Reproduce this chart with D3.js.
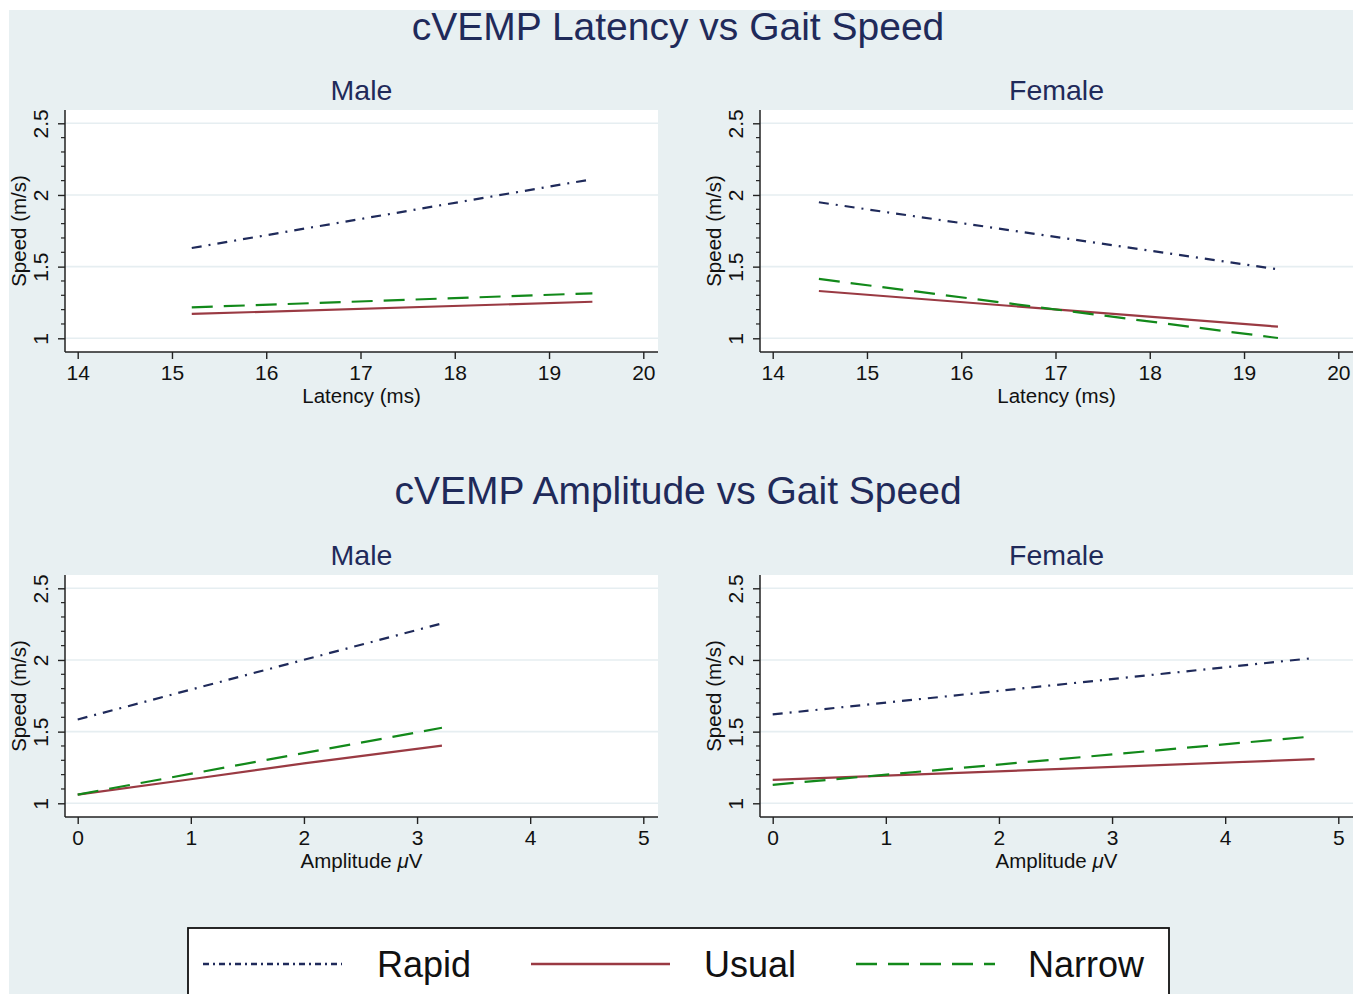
<!DOCTYPE html>
<html>
<head>
<meta charset="utf-8">
<script src="https://cdn.jsdelivr.net/npm/d3@7"></script>
<style>
    body { margin: 0; background: #ffffff; }
    text { font-family: "Liberation Sans", Arial, Helvetica, sans-serif; }
</style>
</head>
<body>
<script>
//chart text
var titles = ["cVEMP Latency vs Gait Speed", "cVEMP Amplitude vs Gait Speed"];
var sexes = ["Male", "Female"];
var groups = ["Rapid", "Usual", "Narrow"];

//tick labels
var latencyTicks = [14, 15, 16, 17, 18, 19, 20];
var amplitudeTicks = [0, 1, 2, 3, 4, 5];
var speedTicks = [1, 1.5, 2, 2.5];

//fitted lines, [x, speed] pairs
var latMaleRapid = [[15.21, 1.63], [19.46, 2.11]];
var latMaleUsual = [[15.21, 1.17], [19.46, 1.255]];
var latMaleNarrow = [[15.21, 1.216], [19.46, 1.314]];

var latFemaleRapid = [[14.49, 1.949], [19.36, 1.481]];
var latFemaleUsual = [[14.49, 1.33], [19.36, 1.081]];
var latFemaleNarrow = [[14.49, 1.414], [19.36, 1.002]];

var ampMaleRapid = [[0, 1.585], [3.22, 2.255]];
var ampMaleUsual = [[0, 1.061], [1, 1.168], [2, 1.278], [3.22, 1.403]];
var ampMaleNarrow = [[0, 1.061], [3.22, 1.527]];

var ampFemaleRapid = [[0, 1.62], [4.79, 2.014]];
var ampFemaleUsual = [[0, 1.163], [4.79, 1.308]];
var ampFemaleNarrow = [[0, 1.129], [4.71, 1.462]];

window.onload = function() {

    var width = 1366, height = 994;

    //line look for each group
    var colors = ["#1f2a5a", "#9a3a43", "#12891a"];
    var dashes = ["10,7,2,7", null, "21,11"];
    var legendDashes = ["6,4,2,4", null, "21,11"];

    var svg = d3.select("body")
        .append("svg")
        .attr("width", width)
        .attr("height", height);

    //outer graph region
    svg.append("rect")
        .attr("x", 9)
        .attr("y", 10)
        .attr("width", 1344)
        .attr("height", height - 10)
        .style("fill", "#e8f0f2");

    //plot region geometry
    var colLeft = [65, 760];
    var rowTop = [110, 575];
    var plotW = 593, plotH = 242;
    var titleY = [40, 504];

    var panels = [
        { row: 0, col: 0, ticks: latencyTicks, xTitle: "Latency (ms)", lines: [latMaleRapid, latMaleUsual, latMaleNarrow] },
        { row: 0, col: 1, ticks: latencyTicks, xTitle: "Latency (ms)", lines: [latFemaleRapid, latFemaleUsual, latFemaleNarrow] },
        { row: 1, col: 0, ticks: amplitudeTicks, xTitle: "Amplitude", lines: [ampMaleRapid, ampMaleUsual, ampMaleNarrow] },
        { row: 1, col: 1, ticks: amplitudeTicks, xTitle: "Amplitude", lines: [ampFemaleRapid, ampFemaleUsual, ampFemaleNarrow] }
    ];

    //big titles
    svg.selectAll(".title")
        .data(titles)
        .enter()
        .append("text")
        .attr("class", "title")
        .attr("x", 678)
        .attr("y", function(d, i) { return titleY[i]; })
        .attr("text-anchor", "middle")
        .style("font-size", "39px")
        .style("fill", "#1f2a5a")
        .text(function(d) { return d; });

    panels.forEach(function(p) {
        var left = colLeft[p.col], top = rowTop[p.row];

        var x = d3.scaleLinear()
            .domain([p.ticks[0], p.ticks[p.ticks.length - 1]])
            .range([left + 12.7, left + 578.3]);

        var y = d3.scaleLinear()
            .domain([1, 2.5])
            .range([top + 228.3, top + 13.3]);

        var g = svg.append("g").attr("class", "panel");

        //white plot area
        g.append("rect")
            .attr("x", left)
            .attr("y", top)
            .attr("width", plotW)
            .attr("height", plotH)
            .style("fill", "#ffffff");

        //panel subtitle
        g.append("text")
            .attr("x", left + plotW / 2)
            .attr("y", top - 10)
            .attr("text-anchor", "middle")
            .style("font-size", "28.5px")
            .style("fill", "#1f2a5a")
            .text(sexes[p.col]);

        //gridlines
        g.selectAll(".grid")
            .data(speedTicks)
            .enter()
            .append("line")
            .attr("class", "grid")
            .attr("x1", left)
            .attr("x2", left + plotW)
            .attr("y1", function(d) { return y(d); })
            .attr("y2", function(d) { return y(d); })
            .style("stroke", "#e6eef1")
            .style("stroke-width", 1.6);

        //fitted lines
        var line = d3.line()
            .x(function(d) { return x(d[0]); })
            .y(function(d) { return y(d[1]); });

        g.selectAll(".fit")
            .data(p.lines)
            .enter()
            .append("path")
            .attr("class", "fit")
            .attr("d", line)
            .style("fill", "none")
            .style("stroke", function(d, i) { return colors[i]; })
            .style("stroke-width", 2.2)
            .style("stroke-dasharray", function(d, i) { return dashes[i]; });

        //x axis
        var xAxis = d3.axisBottom(x)
            .tickValues(p.ticks)
            .tickSize(7)
            .tickPadding(6)
            .tickFormat(d3.format("d"));

        var xg = g.append("g")
            .attr("transform", "translate(0," + (top + plotH) + ")")
            .call(xAxis);
        xg.select(".domain").remove();
        xg.selectAll("line").style("stroke", "#222").style("stroke-width", 1.4);
        xg.selectAll("text")
            .style("font-size", "21px")
            .style("font-family", "'Liberation Sans', Arial, sans-serif")
            .style("fill", "#111");

        //y axis
        var yAxis = d3.axisLeft(y)
            .tickValues(speedTicks)
            .tickSize(7)
            .tickFormat(function(d) { return String(d); });

        var yg = g.append("g")
            .attr("transform", "translate(" + left + ",0)")
            .call(yAxis);
        yg.select(".domain").remove();
        yg.selectAll("line").style("stroke", "#222").style("stroke-width", 1.4);
        yg.selectAll("text")
            .attr("x", 0)
            .attr("dy", 0)
            .attr("text-anchor", "middle")
            .attr("transform", "translate(-17,0) rotate(-90)")
            .style("font-size", "21px")
            .style("font-family", "'Liberation Sans', Arial, sans-serif")
            .style("fill", "#111");

        //minor y ticks every 0.1
        var minor = d3.range(11, 25).filter(function(v) { return v % 5 !== 0; })
            .map(function(v) { return v / 10; });
        g.selectAll(".minor")
            .data(minor)
            .enter()
            .append("line")
            .attr("class", "minor")
            .attr("x1", left - 4)
            .attr("x2", left)
            .attr("y1", function(d) { return y(d); })
            .attr("y2", function(d) { return y(d); })
            .style("stroke", "#222")
            .style("stroke-width", 1.2);

        //axis lines
        g.append("line")
            .attr("x1", left).attr("x2", left)
            .attr("y1", top).attr("y2", top + plotH)
            .style("stroke", "#222").style("stroke-width", 1.5);
        g.append("line")
            .attr("x1", left).attr("x2", left + plotW)
            .attr("y1", top + plotH).attr("y2", top + plotH)
            .style("stroke", "#222").style("stroke-width", 1.5);

        //axis titles
        var xt = g.append("text")
            .attr("x", left + plotW / 2)
            .attr("y", top + plotH + 51)
            .attr("text-anchor", "middle")
            .style("font-size", "20.5px")
            .style("fill", "#111")
            .text(p.xTitle);
        if (p.row === 1) {
            xt.append("tspan").text(" ");
            xt.append("tspan").style("font-style", "italic").text("\u03bc");
            xt.append("tspan").text("V");
        }

        g.append("text")
            .attr("transform", "translate(" + (left - 39) + "," + (top + plotH / 2) + ") rotate(-90)")
            .attr("text-anchor", "middle")
            .style("font-size", "20.5px")
            .style("fill", "#111")
            .text("Speed (m/s)");
    });

    //legend box
    svg.append("rect")
        .attr("x", 188)
        .attr("y", 928)
        .attr("width", 981)
        .attr("height", 90)
        .style("fill", "#ffffff")
        .style("stroke", "#111")
        .style("stroke-width", 1.8);

    var keyX = [203, 531, 856];
    var labelX = [377, 704, 1028];

    svg.selectAll(".key")
        .data(groups)
        .enter()
        .append("line")
        .attr("class", "key")
        .attr("x1", function(d, i) { return keyX[i]; })
        .attr("x2", function(d, i) { return keyX[i] + 139; })
        .attr("y1", 964)
        .attr("y2", 964)
        .style("stroke", function(d, i) { return colors[i]; })
        .style("stroke-width", 2.6)
        .style("stroke-dasharray", function(d, i) { return legendDashes[i]; });

    svg.selectAll(".keyLabel")
        .data(groups)
        .enter()
        .append("text")
        .attr("class", "keyLabel")
        .attr("x", function(d, i) { return labelX[i]; })
        .attr("y", 977)
        .style("font-size", "36px")
        .style("fill", "#111")
        .text(function(d) { return d; });
};
</script>
</body>
</html>
